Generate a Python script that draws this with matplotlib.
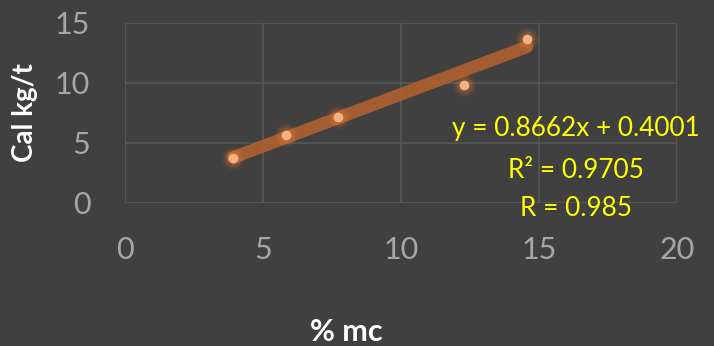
import numpy as np
import matplotlib
matplotlib.use("Agg")
import matplotlib.pyplot as plt

# data
mc = [3.92, 5.84, 7.73, 12.27, 14.56]
cal = [3.75, 5.67, 7.17, 9.83, 13.67]
slope, intercept = 0.8662, 0.4001
eq_lines = ["y = 0.8662x + 0.4001", "R² = 0.9705", "R = 0.985"]
xticks = [0, 5, 10, 15, 20]
yticks = [0, 5, 10, 15]

bg = "#404040"
plt.rcParams["font.family"] = ["Lato", "DejaVu Sans"]

fig = plt.figure(figsize=(7.14, 3.46), dpi=100, facecolor=bg)
ax = fig.add_axes([125/714, 1-203/346, 552/714, 180/346])
ax.set_facecolor(bg)

ax.set_xlim(0, 20)
ax.set_ylim(0, 15)
ax.set_xticks(xticks)
ax.set_yticks(yticks)
ax.grid(True, color="#595959", linewidth=1.1)
ax.set_axisbelow(True)
for s in ax.spines.values():
    s.set_visible(False)
ax.tick_params(length=0, colors="#A6A6A6", labelsize=22)
ax.tick_params(axis="x", pad=24)
ax.tick_params(axis="y", pad=25)

# trendline
xt = np.array([min(mc), max(mc)])
ax.plot(xt, slope*xt + intercept, color="#B0612F", lw=9,
        solid_capstyle="round", alpha=0.9, zorder=3)

# points with a soft glow
for ms, a in [(17, 0.08), (14, 0.12), (11, 0.18)]:
    ax.plot(mc, cal, "o", ms=ms, color="#ED7D31", alpha=a, mec="none", zorder=4)
ax.plot(mc, cal, "o", ms=7, color="#F4B183", mec="none", zorder=5)

# equation labels
ys = [129, 170, 208]
for txt, yp in zip(eq_lines, ys):
    fig.text(576/714, 1-yp/346, txt, color="#FFFF00", fontsize=18.8,
             ha="center", va="center")

fig.text(25/714, 1-113/346, "Cal kg/t", color="white", fontsize=20,
         fontweight="bold", rotation=90, ha="center", va="center")
fig.text(346/714, 1-332/346, "% mc", color="white", fontsize=22,
         fontweight="bold", ha="center", va="center")

fig.savefig("out.png", dpi=100, facecolor=bg)
